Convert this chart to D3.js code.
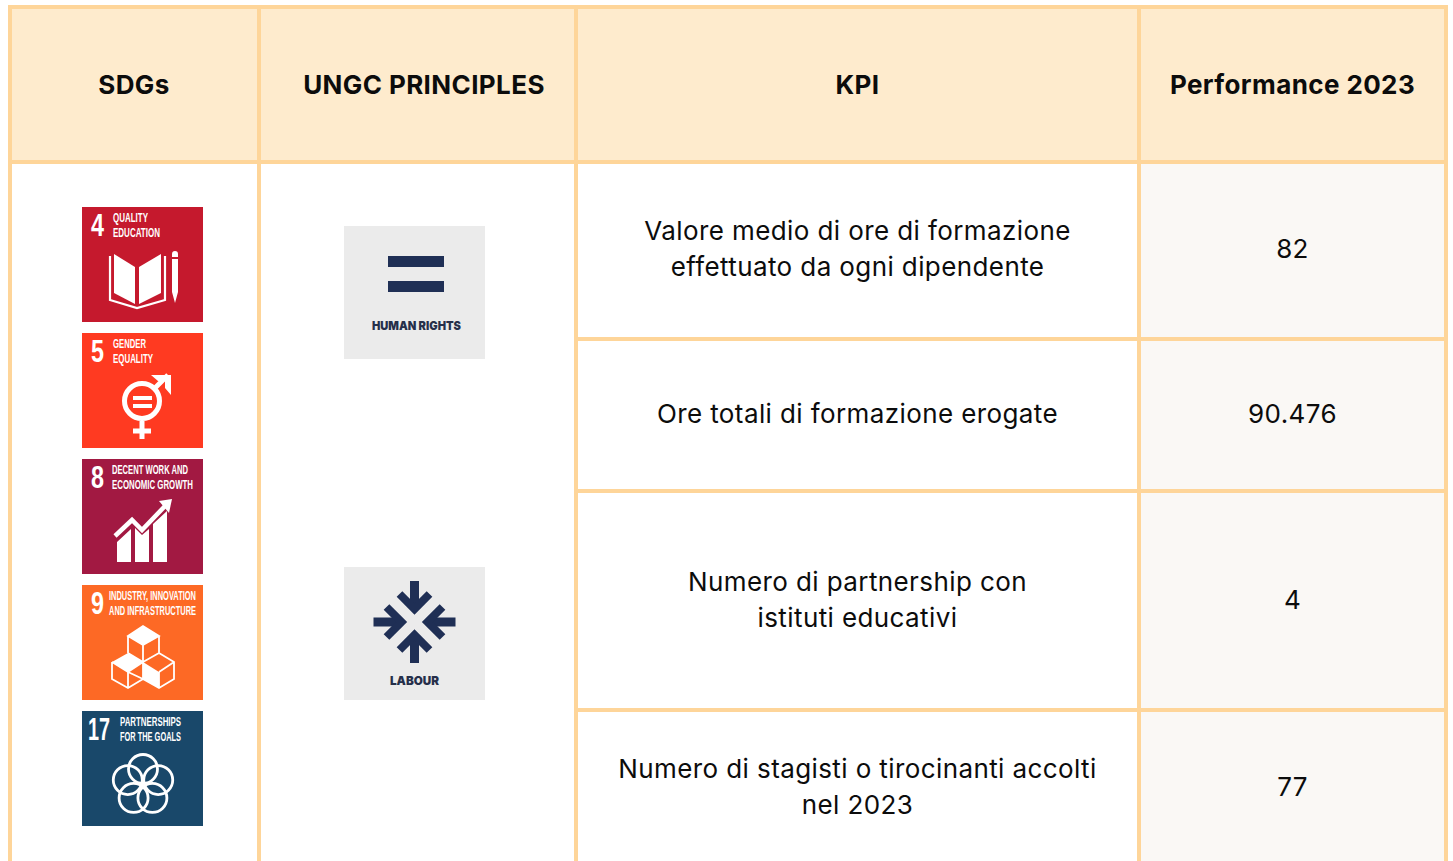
<!DOCTYPE html>
<html>
<head>
<meta charset="utf-8">
<title>KPI table</title>
<script src="https://cdn.jsdelivr.net/npm/d3@7"></script>
<style>
html, body { margin: 0; padding: 0; background: #fff; overflow: hidden; }
svg { display: block; }
text { font-family: Inter, "Noto Sans", sans-serif; fill: #0c0c0c; font-optical-sizing: none; }
.head, .kpi, .perf { letter-spacing: 0.4px; }
.tile-text { font-family: "Liberation Sans Narrow", "Liberation Sans", sans-serif; fill: #fff; font-weight: 700; }
.principle-text { font-weight: 900; fill: #262f4a; }
</style>
</head>
<body>
<div id="chart"></div>
<script>
// table content
var columns = ["SDGs", "UNGC PRINCIPLES", "KPI", "Performance 2023"];
var kpis = [
    ["Valore medio di ore di formazione", "effettuato da ogni dipendente"],
    ["Ore totali di formazione erogate"],
    ["Numero di partnership con", "istituti educativi"],
    ["Numero di stagisti o tirocinanti accolti", "nel 2023"]
];
var performance = ["82", "90.476", "4", "77"];

var sdgNumbers = ["4", "5", "8", "9", "17"];
var sdgTitles = [
    ["QUALITY", "EDUCATION"],
    ["GENDER", "EQUALITY"],
    ["DECENT WORK AND", "ECONOMIC GROWTH"],
    ["INDUSTRY, INNOVATION", "AND INFRASTRUCTURE"],
    ["PARTNERSHIPS", "FOR THE GOALS"]
];
var sdgColors = ["#c5192d", "#ff3a21", "#a21942", "#fd6925", "#19486a"];
var principles = ["HUMAN RIGHTS", "LABOUR"];

// layout
var width = 1453, height = 861;
var gridColor = "#fed599", headColor = "#feebcd", perfColor = "#faf8f5";
var colEdges = [10, 259, 576, 1139, 1446];
var rowEdges = [7, 162, 339, 491, 710, 864];
var headCenters = [134, 424, 857.5, 1292.5];
var rowCenters = [249, 414, 600, 787]; // text sits a bit off the cell middle

var svg = d3.select("#chart").append("svg")
    .attr("width", width)
    .attr("height", height);

// header + performance fills
svg.append("rect")
    .attr("x", colEdges[0]).attr("y", rowEdges[0])
    .attr("width", colEdges[4] - colEdges[0]).attr("height", rowEdges[1] - rowEdges[0])
    .attr("fill", headColor);
svg.append("rect")
    .attr("x", colEdges[3]).attr("y", rowEdges[1])
    .attr("width", colEdges[4] - colEdges[3]).attr("height", rowEdges[5] - rowEdges[1])
    .attr("fill", perfColor);

// grid lines
svg.selectAll(".vline")
    .data(colEdges)
    .enter().append("line")
    .attr("class", "vline")
    .attr("x1", d => d).attr("x2", d => d)
    .attr("y1", rowEdges[0] - 2).attr("y2", rowEdges[5])
    .attr("stroke", gridColor).attr("stroke-width", 4);
svg.selectAll(".hline")
    .data(rowEdges.slice(0, 2))
    .enter().append("line")
    .attr("class", "hline")
    .attr("x1", colEdges[0]).attr("x2", colEdges[4])
    .attr("y1", d => d).attr("y2", d => d)
    .attr("stroke", gridColor).attr("stroke-width", 4);
svg.selectAll(".hline-kpi")
    .data(rowEdges.slice(2, 5))
    .enter().append("line")
    .attr("class", "hline-kpi")
    .attr("x1", colEdges[2]).attr("x2", colEdges[4])
    .attr("y1", d => d).attr("y2", d => d)
    .attr("stroke", gridColor).attr("stroke-width", 4);

// header labels
svg.selectAll(".head")
    .data(columns)
    .enter().append("text")
    .attr("class", "head")
    .attr("x", (d, i) => headCenters[i])
    .attr("y", 94)
    .attr("text-anchor", "middle")
    .attr("font-size", 26)
    .attr("font-weight", 700)
    .text(d => d);

// KPI cells
var lineHeight = 36;
kpis.forEach(function(lines, r){
    svg.selectAll(".kpi" + r)
        .data(lines)
        .enter().append("text")
        .attr("class", "kpi kpi" + r)
        .attr("x", headCenters[2])
        .attr("y", (d, i) => rowCenters[r] + 9 + (i - (lines.length - 1) / 2) * lineHeight)
        .attr("text-anchor", "middle")
        .attr("font-size", 26)
        .text(d => d);
});

svg.selectAll(".perf")
    .data(performance)
    .enter().append("text")
    .attr("class", "perf")
    .attr("x", headCenters[3])
    .attr("y", (d, i) => rowCenters[i] + 9)
    .attr("text-anchor", "middle")
    .attr("font-size", 26)
    .text(d => d);

// SDG tiles
var tileY = d3.scaleBand()
    .domain(sdgNumbers)
    .range([207, 826])
    .paddingInner(11 / 126);
var tileX = 82, tileW = 121;

var tiles = svg.selectAll(".tile")
    .data(sdgNumbers)
    .enter().append("g")
    .attr("class", "tile")
    .attr("transform", d => "translate(" + tileX + "," + tileY(d) + ")");

tiles.append("rect")
    .attr("width", tileW)
    .attr("height", tileY.bandwidth())
    .attr("fill", (d, i) => sdgColors[i]);

tiles.append("text")
    .attr("class", "tile-text")
    .attr("x", d => d.length > 1 ? 6 : 9)
    .attr("y", 29)
    .attr("font-size", 31)
    .attr("textLength", d => d.length > 1 ? 22 : 13)
    .attr("lengthAdjust", "spacingAndGlyphs")
    .text(d => d);

// title widths as they look in the tiles
var titleX = [31, 31, 30, 27, 38];
var titleW = [[35, 47], [33, 40], [76, 81], [87, 87], [61, 61]];
tiles.each(function(d, i){
    d3.select(this).selectAll(".tile-title")
        .data(sdgTitles[i])
        .enter().append("text")
        .attr("class", "tile-text tile-title")
        .attr("x", titleX[i])
        .attr("y", (t, j) => 15 + j * 14.5)
        .attr("font-size", 13)
        .attr("textLength", (t, j) => titleW[i][j])
        .attr("lengthAdjust", "spacingAndGlyphs")
        .text(t => t);
});

function white(sel, w){
    return sel.attr("fill", "none").attr("stroke", "#fff").attr("stroke-width", w);
}

// goal 4 - book and pencil
var g4 = tiles.filter(d => d == "4");
g4.append("path").attr("fill", "#fff").attr("d", "M32,47L53,60V97L32,86Z");
g4.append("path").attr("fill", "#fff").attr("d", "M57,60L79,47V86L57,97Z");
white(g4.append("path"), 2.2).attr("d", "M28,49V93L55,101L83,93V49");
g4.append("path").attr("fill", "#fff").attr("d", "M90,47a3,3 0 0 1 6,0v3h-6zM90,52h6v33l-3,11l-3,-11z");

// goal 5 - gender symbol
var g5 = tiles.filter(d => d == "5");
white(g5.append("circle"), 5).attr("cx", 60).attr("cy", 68).attr("r", 17.5);
white(g5.append("path"), 5).attr("d", "M73,55L86,42");
g5.append("path").attr("fill", "#fff").attr("d", "M69,42H89V62L83,55V48H76Z");
white(g5.append("path"), 5).attr("d", "M60,88V106M51,98H69");
g5.append("path").attr("fill", "#fff").attr("d", "M51,63H70V67H51ZM51,71H70V75H51Z");

// goal 8 - rising bars
var g8 = tiles.filter(d => d == "8");
g8.append("path").attr("fill", "#fff")
    .attr("d", "M35,83L49,70V103H35ZM53,69L60,76L67,70V103H53ZM71,65L85,52V103H71Z");
white(g8.append("path"), 4.5).attr("d", "M33,77L50,61L60,71L84,46");
g8.append("path").attr("fill", "#fff").attr("d", "M77,42L90,40L87,54Z");

// goal 9 - cubes
var g9 = tiles.filter(d => d == "9");
g9.append("path").attr("fill", "#fff").attr("d", "M46,51L61,41L77,51L61,60ZM30,77L46,68L61,77L46,87ZM61,77L77,87V103L61,94Z");
white(g9.append("path"), 1.8).attr("d",
    "M46,51V68M61,60V77M77,51V68M46,51L61,60L77,51L61,41ZM30,77V94L46,103L61,94V77L77,68L92,77V94L77,103L61,94M46,87V103M77,87V103M77,87L92,77M30,77L46,87L61,77L46,68M46,87L61,94");

// goal 17 - five rings
var g17 = tiles.filter(d => d == "17");
[-90, -18, 54, 126, 198].forEach(function(a){
    white(g17.append("circle"), 2.8)
        .attr("cx", 61 + 16 * Math.cos(a * Math.PI / 180))
        .attr("cy", 74 + 16 * Math.sin(a * Math.PI / 180))
        .attr("r", 14.5);
});

// UNGC principle tiles
var principleY = d3.scalePoint()
    .domain(principles)
    .range([226, 567]);
var pX = 344, pW = 141, pH = 133, navy = "#1f2f55";

var ptiles = svg.selectAll(".principle")
    .data(principles)
    .enter().append("g")
    .attr("class", "principle")
    .attr("transform", d => "translate(" + pX + "," + principleY(d) + ")");

ptiles.append("rect")
    .attr("width", pW)
    .attr("height", pH)
    .attr("fill", "#ebebeb");

ptiles.append("text")
    .attr("class", "principle-text")
    .attr("x", (d, i) => i == 0 ? 28 : 46)
    .attr("y", (d, i) => i == 0 ? 104 : 118)
    .attr("font-size", 12)
    .attr("textLength", (d, i) => i == 0 ? 89 : 49)
    .attr("lengthAdjust", "spacingAndGlyphs")
    .text(d => d);

var human = ptiles.filter(d => d == "HUMAN RIGHTS");
human.append("rect").attr("x", 44).attr("y", 30).attr("width", 56).attr("height", 11).attr("fill", navy);
human.append("rect").attr("x", 44).attr("y", 55).attr("width", 56).attr("height", 11).attr("fill", navy);

var labour = ptiles.filter(d => d == "LABOUR");
[0, 90, 180, 270].forEach(function(rot){
    var arrow = labour.append("g")
        .attr("transform", "translate(70.5,55) rotate(" + rot + ")");
    arrow.append("rect").attr("x", -4.5).attr("y", -41).attr("width", 9).attr("height", 26).attr("fill", navy);
    arrow.append("path")
        .attr("d", "M-15,-28L0,-13L15,-28")
        .attr("fill", "none")
        .attr("stroke", navy)
        .attr("stroke-width", 8);
});
</script>
</body>
</html>
